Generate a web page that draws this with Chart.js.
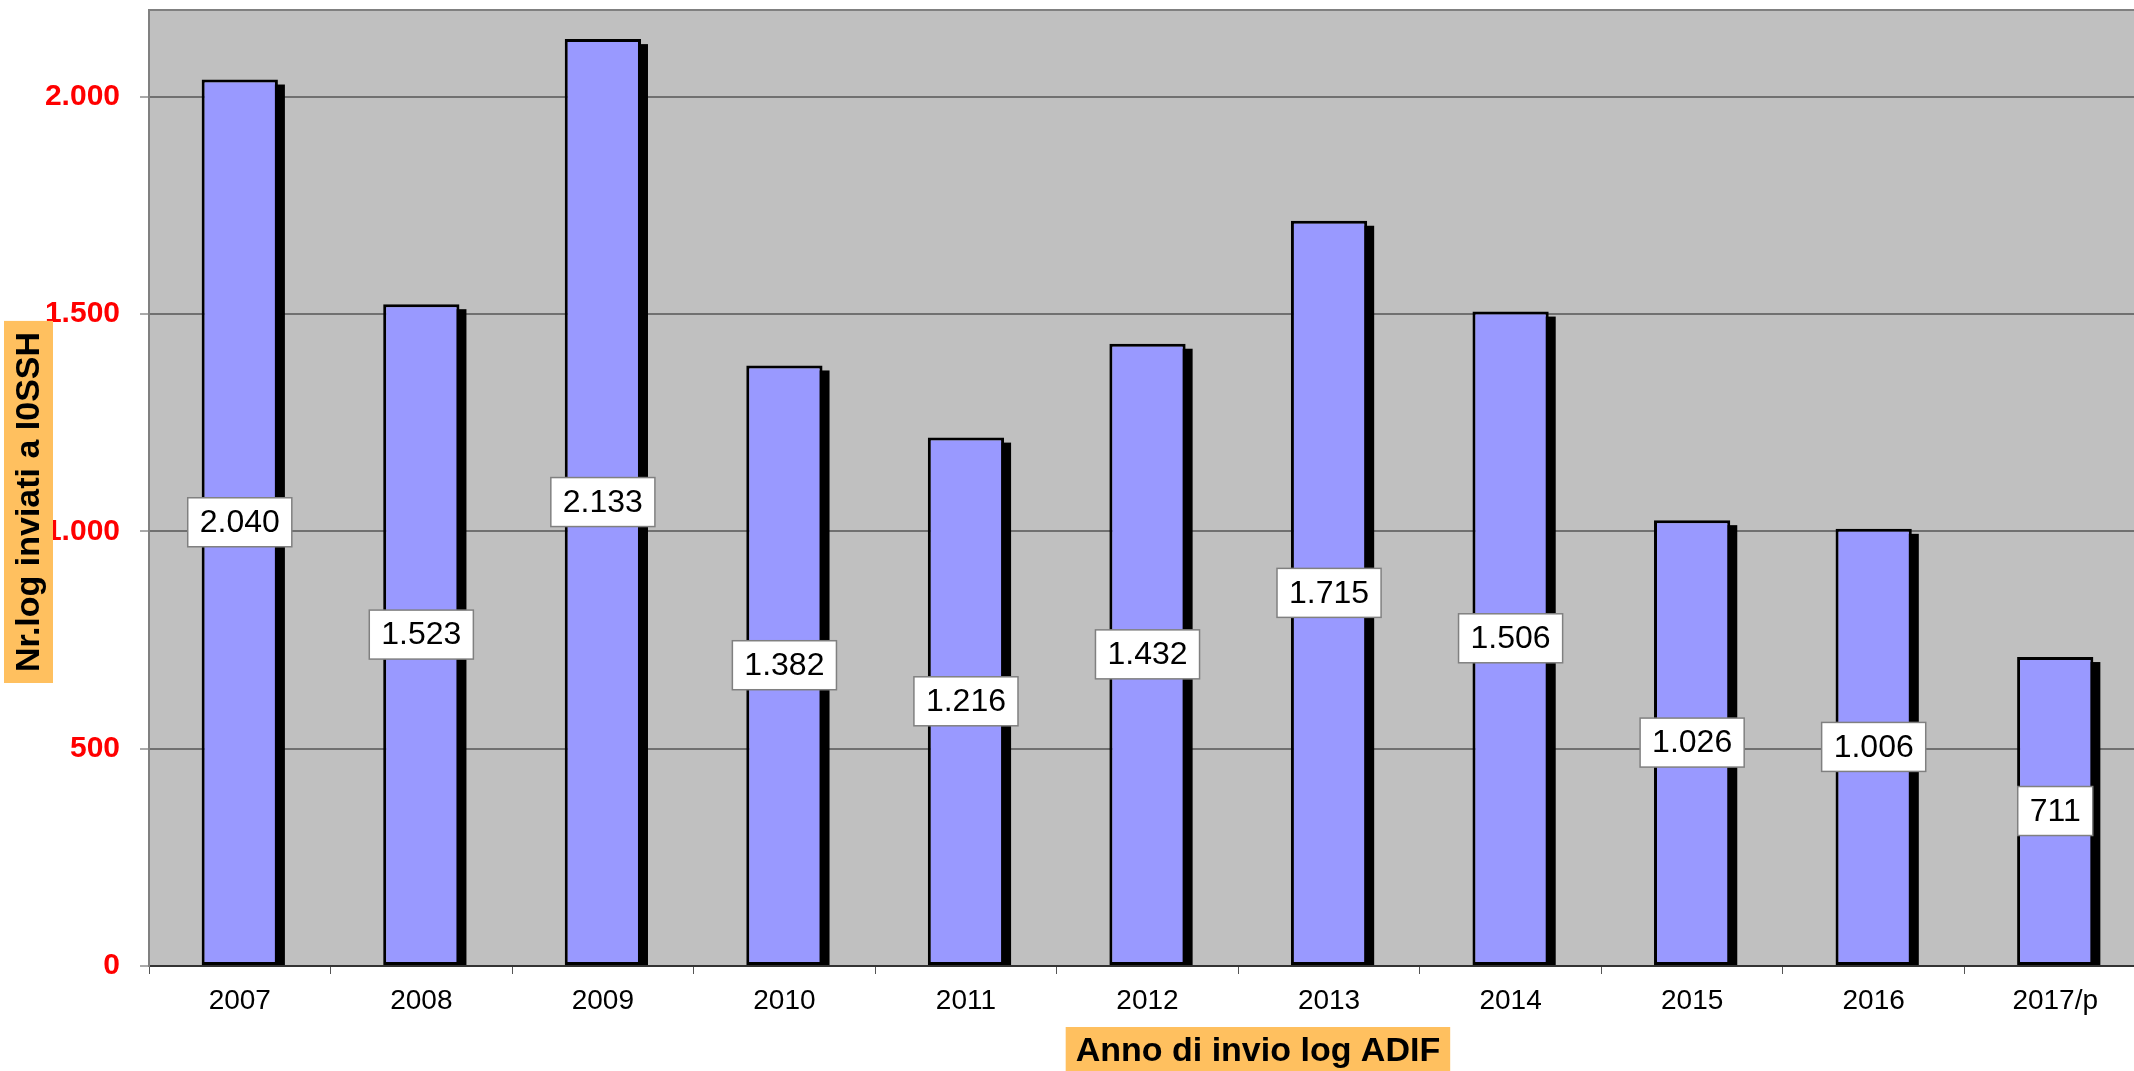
<!DOCTYPE html>
<html lang="it">
<head>
    <meta charset="UTF-8">
    <title>Log inviati a I0SSH</title>
    <script src="https://cdn.jsdelivr.net/npm/chart.js"></script>
    <style>
        html, body { margin: 0; padding: 0; background: #fff; overflow: hidden; }
        #wrap { width: 2146px; height: 1071px; }
    </style>
</head>
<body>
    <div id="wrap"><canvas id="logChart"></canvas></div>

    <script>
        // dati
        const anni = ['2007', '2008', '2009', '2010', '2011', '2012', '2013', '2014', '2015', '2016', '2017/p'];
        const logInviati = [2040, 1523, 2133, 1382, 1216, 1432, 1715, 1506, 1026, 1006, 711];
        const tickY = [0, 500, 1000, 1500, 2000];

        const titoloY = 'Nr.log inviati a I0SSH';
        const titoloX = 'Anno di invio log ADIF';
        const FONT = "'Liberation Sans', Arial, sans-serif";

        // separatore delle migliaia con il punto
        function formatta(n) {
            return String(n).replace(/\B(?=(\d{3})+(?!\d))/g, '.');
        }

        // sfondo grigio dell'area del grafico
        const sfondo = {
            id: 'sfondo',
            beforeDraw(chart) {
                const { ctx, chartArea: a } = chart;
                ctx.save();
                ctx.fillStyle = '#C0C0C0';
                ctx.fillRect(a.left, a.top, a.right - a.left, a.bottom - a.top);
                ctx.strokeStyle = '#808080';
                ctx.lineWidth = 2;
                ctx.beginPath();
                ctx.moveTo(a.left, a.bottom);
                ctx.lineTo(a.left, a.top);
                ctx.lineTo(a.right, a.top);
                ctx.stroke();
                ctx.restore();
            }
        };

        // ombra nera dietro le barre (le barre di Chart.js sono ritagliate, quindi la disegno a parte)
        const ombra = {
            id: 'ombra',
            beforeDatasetsDraw(chart) {
                const ctx = chart.ctx;
                const meta = chart.getDatasetMeta(0);
                ctx.save();
                ctx.fillStyle = '#000';
                meta.data.forEach(bar => {
                    const { x, y, base, width } = bar.getProps(['x', 'y', 'base', 'width'], true);
                    ctx.fillRect(x - width / 2 + 7, y + 5, width, base - y - 5);
                });
                ctx.restore();
            }
        };

        // etichette dei valori nel mezzo delle barre
        const etichette = {
            id: 'etichette',
            afterDatasetsDraw(chart) {
                const ctx = chart.ctx;
                const meta = chart.getDatasetMeta(0);
                ctx.save();
                ctx.font = '32px ' + FONT;
                ctx.textAlign = 'center';
                ctx.textBaseline = 'middle';
                meta.data.forEach((bar, i) => {
                    const testo = formatta(logInviati[i]);
                    const w = ctx.measureText(testo).width + 24;
                    const h = 49;
                    const cy = (bar.y + bar.base) / 2;
                    ctx.fillStyle = '#fff';
                    ctx.fillRect(bar.x - w / 2, cy - h / 2, w, h);
                    ctx.strokeStyle = '#808080';
                    ctx.lineWidth = 1.5;
                    ctx.strokeRect(bar.x - w / 2, cy - h / 2, w, h);
                    ctx.fillStyle = '#000';
                    ctx.fillText(testo, bar.x, cy + 1);
                });
                ctx.restore();
            }
        };

        // titoli degli assi con riquadro arancione
        const titoli = {
            id: 'titoli',
            afterDraw(chart) {
                const { ctx, chartArea: a } = chart;
                ctx.save();
                ctx.font = 'bold 34px ' + FONT;
                ctx.textBaseline = 'middle';
                ctx.textAlign = 'center';

                // asse Y
                const cy = a.top + (a.bottom - a.top) * 0.5146;
                const wy = ctx.measureText(titoloY).width + 22;
                ctx.fillStyle = '#FFC05F';
                ctx.fillRect(4, cy - wy / 2, 49, wy);
                ctx.translate(30, cy);
                ctx.rotate(-Math.PI / 2);
                ctx.fillStyle = '#000';
                ctx.fillText(titoloY, 0, 0);
                ctx.setTransform(1, 0, 0, 1, 0, 0);

                // asse X
                const cx = a.left + (a.right - a.left) * 0.5553;
                const wx = ctx.measureText(titoloX).width + 20;
                ctx.fillStyle = '#FFC05F';
                ctx.fillRect(cx - wx / 2, 1027, wx, 50);
                ctx.fillStyle = '#000';
                ctx.fillText(titoloX, cx, 1052);
                ctx.restore();
            }
        };

        const ctx = document.getElementById('logChart').getContext('2d');
        new Chart(ctx, {
            type: 'bar',
            data: {
                labels: anni,
                datasets: [{
                    data: logInviati,
                    backgroundColor: '#9999FF',
                    borderColor: '#000',
                    borderWidth: 3,
                    borderSkipped: false,
                    barPercentage: 0.42,
                    categoryPercentage: 1
                }]
            },
            options: {
                responsive: true,
                maintainAspectRatio: false,
                animation: false,
                layout: { padding: { top: 10, left: 0, right: 0, bottom: 0 } },
                plugins: {
                    legend: { display: false },
                    tooltip: { enabled: false }
                },
                scales: {
                    x: {
                        grid: {
                            offset: true,
                            drawOnChartArea: false,
                            tickLength: 8,
                            tickColor: '#555',
                            tickWidth: 1
                        },
                        border: { color: '#333', width: 2 },
                        ticks: {
                            color: '#000',
                            font: { family: FONT, size: 28 },
                            padding: 10,
                            maxRotation: 0
                        },
                        afterFit(scale) { scale.height = 105; }
                    },
                    y: {
                        min: 0,
                        max: 2200,
                        afterBuildTicks(scale) {
                            scale.ticks = tickY.map(v => ({ value: v }));
                        },
                        grid: {
                            color: '#707070',
                            lineWidth: 2,
                            tickLength: 9,
                            tickColor: '#555',
                            tickWidth: 1
                        },
                        border: { color: '#808080', width: 2 },
                        ticks: {
                            color: '#FF0000',
                            font: { family: FONT, size: 30, weight: 'bold' },
                            padding: 20,
                            callback: v => formatta(v)
                        },
                        afterFit(scale) {
                            scale.width = 149;
                            scale.paddingTop = 0;
                            scale.paddingBottom = 0;
                        }
                    }
                }
            },
            plugins: [sfondo, ombra, etichette, titoli]
        });
    </script>
</body>
</html>
